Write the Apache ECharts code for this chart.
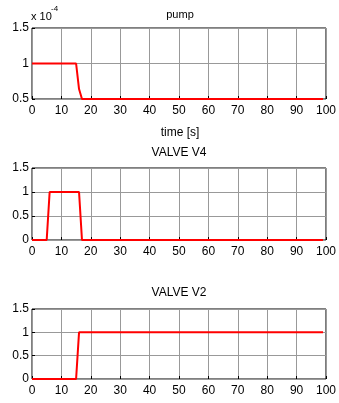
<!DOCTYPE html>
<html><head><meta charset="utf-8">
<script src="https://cdn.jsdelivr.net/npm/echarts@6/dist/echarts.min.js"></script>
<style>html,body{margin:0;padding:0;background:#fff}#c{width:339px;height:403px}</style>
</head><body><div id="c"></div>
<script>
// Data (time in s)
const pumpTime = [0, 15, 16, 17, 99];
const pumpValue = [1, 1, 0.64, 0.5, 0.5]; // x 10^-4
const v4Time = [0, 5, 6, 16, 17, 99];
const v4Value = [0, 0, 1, 1, 0, 0];
const v2Time = [0, 15, 16, 99];
const v2Value = [0, 0, 1, 1];
const xTicks = [0, 10, 20, 30, 40, 50, 60, 70, 80, 90, 100];
const titles = ['pump', 'VALVE V4', 'VALVE V2'];

const FONT = '"Liberation Sans Narrow", "Liberation Sans", Arial, sans-serif';
const chart = echarts.init(document.getElementById('c'));
const grids = [
  {left: 32, top: 28, width: 298, height: 71},
  {left: 32, top: 168, width: 298, height: 72},
  {left: 32, top: 309, width: 298, height: 70}
];
const yRanges = [[0.5, 1.5], [0, 1.5], [0, 1.5]];
const series = [[pumpTime, pumpValue], [v4Time, v4Value], [v2Time, v2Value]];

const option = {
  animation: false,
  grid: grids.map(g => Object.assign({show: true, borderColor: '#000', borderWidth: 1, backgroundColor: '#fff'}, g)),
  xAxis: grids.map((g, i) => ({
    type: 'value', gridIndex: i, min: 0, max: 100, interval: 10,
    axisLine: {show: false},
    axisTick: {show: true, inside: true, length: 3, lineStyle: {color: '#000'}},
    splitLine: {show: true, lineStyle: {color: '#999', width: 1}},
    axisLabel: {color: '#000', fontFamily: FONT, fontSize: 12, margin: 6,
      formatter: v => xTicks.includes(v) ? String(v) : ''}
  })),
  yAxis: grids.map((g, i) => ({
    type: 'value', gridIndex: i, min: yRanges[i][0], max: yRanges[i][1], interval: 0.5,
    axisLine: {show: false},
    axisTick: {show: true, inside: true, length: 3, lineStyle: {color: '#000'}},
    splitLine: {show: true, lineStyle: {color: '#999', width: 1}},
    axisLabel: {color: '#000', fontFamily: FONT, fontSize: 12, margin: 3,
      formatter: v => String(v)}
  })),
  series: series.map((s, i) => ({
    type: 'line', xAxisIndex: i, yAxisIndex: i, showSymbol: false, symbol: 'none',
    lineStyle: {color: '#ff0000', width: 2}, z: 5,
    data: s[0].map((t, k) => [t, s[1][k]])
  })),
  graphic: [
    {type: 'text', x: 180, y: 9, style: {text: titles[0], font: '11px ' + FONT, fill: '#000', textAlign: 'center'}},
    {type: 'text', x: 180, y: 127, style: {text: 'time [s]', font: '12px ' + FONT, fill: '#000', textAlign: 'center'}},
    {type: 'text', x: 179, y: 147, style: {text: titles[1], font: '12px ' + FONT, fill: '#000', textAlign: 'center'}},
    {type: 'text', x: 179, y: 287, style: {text: titles[2], font: '12px ' + FONT, fill: '#000', textAlign: 'center'}},
    {type: 'text', x: 31, y: 11, style: {text: 'x 10', font: '11px ' + FONT, fill: '#000'}},
    {type: 'text', x: 51, y: 5, style: {text: '-4', font: '8px ' + FONT, fill: '#000'}}
  ]
};
chart.setOption(option);
</script></body></html>
